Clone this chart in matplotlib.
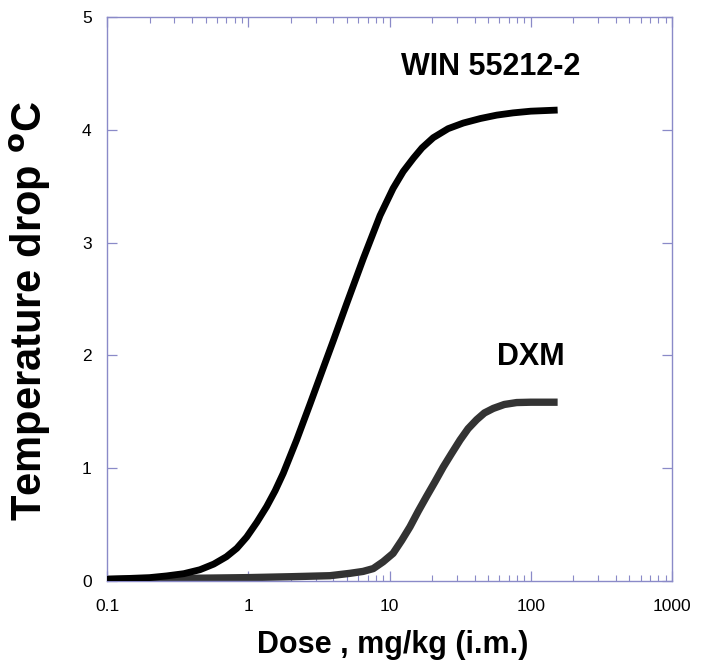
import matplotlib
matplotlib.use("Agg")
import matplotlib.pyplot as plt
from matplotlib.ticker import LogLocator, NullFormatter, FixedLocator, FixedFormatter

# Data
win_dose = [0.1, 0.2, 0.264, 0.35, 0.455, 0.57, 0.70, 0.83, 0.975, 1.15, 1.35, 1.55, 1.77,
            2.20, 2.74, 3.40, 4.0, 4.98, 6.53, 8.57, 10.6, 12.5, 14.8, 17.0, 20.4,
            26.0, 33.3, 44.0, 57.4, 75.0, 100, 155]
win_drop = [0.015, 0.03, 0.045, 0.065, 0.10, 0.15, 0.215, 0.29, 0.39, 0.52, 0.66, 0.80, 0.955,
            1.25, 1.57, 1.89, 2.13, 2.46, 2.86, 3.24, 3.48, 3.63, 3.75, 3.84, 3.93,
            4.01, 4.06, 4.10, 4.13, 4.15, 4.165, 4.175]

dxm_dose = [0.1, 0.3, 1.0, 2.0, 3.79, 5.25, 6.5, 7.67, 9.0, 10.6, 12.2, 13.96, 16.0, 18.3,
            21.0, 24.0, 27.5, 31.6, 36.0, 41.4, 47.0, 54.3, 65.0, 79.5, 100, 155]
dxm_drop = [0.015, 0.022, 0.03, 0.038, 0.047, 0.068, 0.085, 0.11, 0.17, 0.245, 0.36, 0.48, 0.62, 0.75,
            0.88, 1.01, 1.13, 1.25, 1.35, 1.43, 1.49, 1.53, 1.565, 1.582, 1.585, 1.585]

x_ticks = [0.1, 1, 10, 100, 1000]
x_tick_labels = ["0.1", "1", "10", "100", "1000"]
y_ticks = [0, 1, 2, 3, 4, 5]

plt.rcParams['font.family'] = ['Liberation Sans', 'DejaVu Sans']

W, H = 704, 670
fig = plt.figure(figsize=(W / 100, H / 100), dpi=100)
ax = fig.add_axes([107 / W, 1 - 581 / H, (672 - 107) / W, (581 - 17) / H])

ax.plot(win_dose, win_drop, color='black', lw=4.9, solid_capstyle='butt',
        solid_joinstyle='round', zorder=3)
ax.plot(dxm_dose, dxm_drop, color='#333333', lw=5.3, solid_capstyle='butt',
        solid_joinstyle='round', zorder=2)

ax.set_xscale('log')
ax.set_xlim(0.1, 1000)
ax.set_ylim(0, 5)

spine_col = '#8a8ac8'
for s in ax.spines.values():
    s.set_color(spine_col)
    s.set_linewidth(1.0)

ax.xaxis.set_major_locator(FixedLocator(x_ticks))
ax.xaxis.set_major_formatter(FixedFormatter(x_tick_labels))
ax.xaxis.set_minor_locator(LogLocator(base=10, subs=range(2, 10)))
ax.xaxis.set_minor_formatter(NullFormatter())
ax.set_yticks(y_ticks)

ax.tick_params(axis='both', which='major', direction='in', length=7, width=0.9,
               color=spine_col, labelsize=12.5, labelcolor='black',
               top=True, right=True)
ax.tick_params(axis='x', which='major', pad=13)
ax.tick_params(axis='y', which='major', pad=11)
ax.tick_params(axis='x', which='minor', direction='in', length=4, width=0.8,
               color=spine_col, top=True)

# Axis titles
fig.text(393 / W, 1 - 653 / H, 'Dose , mg/kg (i.m.)', fontsize=22, fontweight='bold',
         ha='center', va='baseline')
fig.text(30 / W, 1 - 311 / H, 'Temperature drop $^{\\mathbf{o}}$C', fontsize=30,
         fontweight='bold', rotation=90, ha='center', va='center')

# Curve labels
ax.text((491 - 107) / 565, (581 - 75) / 564, 'WIN 55212-2', transform=ax.transAxes,
        fontsize=22, fontweight='bold', ha='center', va='baseline')
ax.text((531 - 107) / 565, (581 - 365) / 564, 'DXM', transform=ax.transAxes,
        fontsize=22, fontweight='bold', ha='center', va='baseline')

fig.savefig('out.png', dpi=100)
